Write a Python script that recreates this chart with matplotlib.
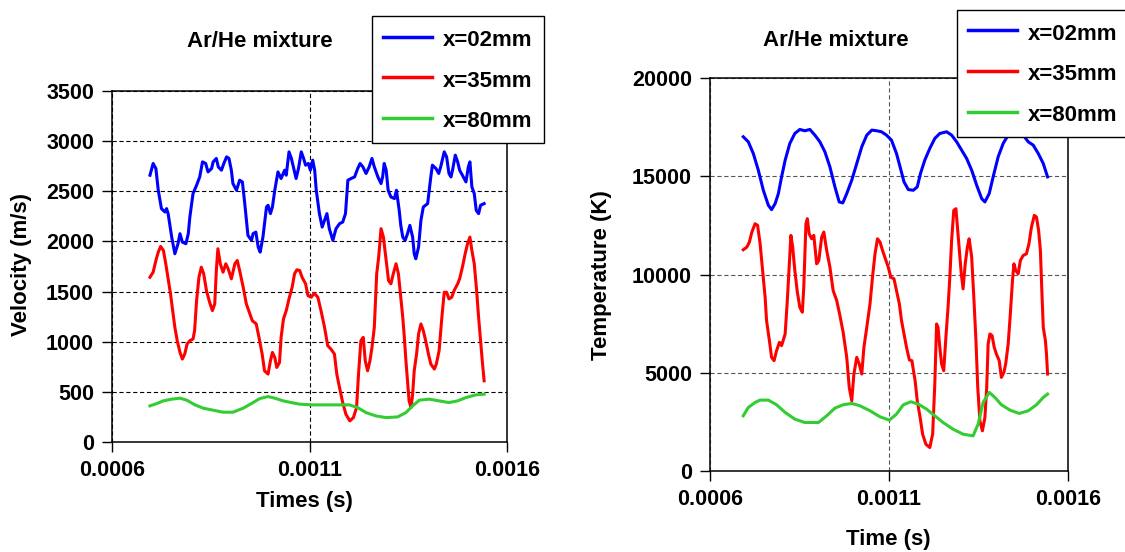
import numpy as np
import matplotlib
matplotlib.use("Agg")
import matplotlib.pyplot as plt

plt.rcParams['font.family'] = ['Liberation Sans', 'DejaVu Sans']
plt.rcParams['font.weight'] = 'bold'

# ---- left panel: velocity (m/s), time in microseconds ----
t_v02 = [696, 704, 711, 717, 725, 734, 738, 742, 751, 759, 767, 772, 778, 787, 793, 797, 805, 814, 822, 829,
         837, 843, 852, 856, 864, 869, 877, 883, 890, 896, 902, 906, 915, 923, 930, 936, 944, 953, 957, 964,
         970, 975, 982, 991, 995, 1001, 1006, 1012, 1020, 1028, 1037, 1041, 1048, 1054, 1060, 1066, 1072, 1079,
         1085, 1090, 1097, 1102, 1108, 1113, 1117, 1125, 1132, 1138, 1144, 1150, 1159, 1167, 1176, 1184, 1191,
         1197, 1205, 1214, 1222, 1228, 1235, 1243, 1251, 1258, 1264, 1273, 1281, 1285, 1289, 1294, 1299, 1306,
         1315, 1320, 1327, 1331, 1336, 1342, 1348, 1354, 1361, 1365, 1369, 1376, 1382, 1388, 1399, 1407, 1411,
         1420, 1427, 1432, 1441, 1447, 1453, 1458, 1462, 1469, 1475, 1480, 1487, 1496, 1502, 1506, 1511, 1517,
         1522, 1528, 1533, 1542]
v02 = [2660, 2777, 2727, 2510, 2327, 2293, 2327, 2277, 2043, 1877, 1977, 2077, 1993, 1977, 2077, 2243, 2477,
       2560, 2643, 2793, 2777, 2693, 2727, 2793, 2827, 2743, 2710, 2777, 2843, 2827, 2710, 2577, 2510, 2610,
       2593, 2377, 2060, 2010, 2077, 2093, 1943, 1893, 2043, 2343, 2360, 2277, 2343, 2510, 2693, 2627, 2710,
       2660, 2893, 2827, 2727, 2627, 2727, 2893, 2827, 2760, 2777, 2710, 2810, 2710, 2510, 2277, 2143, 2210,
       2277, 2127, 2010, 2127, 2177, 2193, 2277, 2610, 2627, 2643, 2727, 2777, 2743, 2677, 2743, 2827, 2743,
       2643, 2577, 2643, 2777, 2710, 2510, 2443, 2427, 2510, 2310, 2160, 2043, 2010, 2077, 2160, 2043, 1877,
       1827, 1943, 2210, 2343, 2377, 2643, 2760, 2727, 2677, 2743, 2893, 2843, 2677, 2643, 2710, 2860, 2793,
       2710, 2660, 2593, 2743, 2793, 2543, 2477, 2310, 2277, 2360, 2377]

t_v35 = [696, 704, 711, 717, 723, 730, 736, 742, 748, 753, 759, 765, 772, 778, 784, 790, 797, 805, 809, 814,
         820, 826, 832, 839, 847, 854, 860, 864, 868, 874, 881, 888, 894, 902, 911, 917, 923, 932, 940, 949,
         955, 965, 972, 980, 986, 995, 1001, 1006, 1012, 1017, 1024, 1028, 1034, 1041, 1049, 1056, 1062, 1068,
         1075, 1081, 1090, 1096, 1104, 1112, 1121, 1129, 1138, 1146, 1154, 1163, 1169, 1175, 1184, 1192, 1202,
         1211, 1219, 1224, 1230, 1236, 1241, 1247, 1253, 1258, 1264, 1270, 1275, 1281, 1287, 1294, 1300, 1306,
         1312, 1319, 1325, 1331, 1336, 1340, 1344, 1348, 1352, 1357, 1361, 1365, 1371, 1376, 1382, 1388, 1394,
         1401, 1407, 1416, 1421, 1428, 1435, 1441, 1447, 1453, 1460, 1466, 1475, 1480, 1487, 1494, 1500, 1506,
         1511, 1517, 1523, 1528, 1533, 1538, 1542]
v35 = [1643, 1693, 1810, 1893, 1950, 1910, 1777, 1627, 1477, 1327, 1143, 1010, 893, 827, 877, 977, 1010, 1027,
       1110, 1410, 1643, 1743, 1677, 1510, 1393, 1310, 1377, 1710, 1927, 1777, 1693, 1777, 1727, 1627, 1777,
       1810, 1710, 1543, 1377, 1277, 1210, 1177, 1043, 877, 710, 677, 810, 893, 843, 743, 793, 1043, 1227,
       1310, 1443, 1543, 1677, 1717, 1710, 1643, 1577, 1460, 1443, 1483, 1443, 1310, 1143, 960, 927, 877, 677,
       560, 393, 277, 210, 243, 343, 677, 1010, 1043, 810, 710, 810, 943, 1143, 1677, 1843, 2127, 2043, 1810,
       1610, 1577, 1677, 1777, 1677, 1443, 1243, 1043, 810, 610, 410, 343, 477, 710, 877, 1077, 1177, 1110,
       1010, 877, 777, 727, 777, 910, 1243, 1493, 1493, 1427, 1443, 1510, 1577, 1627, 1743, 1877, 1977, 2043,
       1910, 1777, 1510, 1243, 1010, 777, 610]

t_v80 = [696, 713, 730, 751, 772, 789, 810, 831, 856, 881, 906, 932, 957, 974, 995, 1012, 1033, 1054, 1075,
         1109, 1159, 1201, 1222, 1243, 1268, 1294, 1323, 1344, 1361, 1378, 1403, 1428, 1453, 1475, 1496, 1521,
         1542]
v80 = [360, 383, 410, 427, 437, 417, 370, 337, 317, 297, 297, 337, 393, 433, 453, 437, 410, 393, 377, 370,
       370, 370, 343, 293, 260, 243, 250, 293, 360, 417, 427, 410, 393, 410, 443, 470, 477]

# ---- right panel: temperature (K) ----
t_T02 = [693, 707, 721, 735, 749, 763, 772, 782, 791, 800, 810, 823, 837, 851, 865, 879, 893, 907, 921, 935,
         949, 961, 971, 982, 996, 1010, 1024, 1038, 1052, 1066, 1079, 1093, 1107, 1121, 1131, 1142, 1154, 1168,
         1179, 1188, 1200, 1214, 1228, 1242, 1261, 1275, 1289, 1303, 1317, 1331, 1345, 1359, 1368, 1380, 1391,
         1405, 1419, 1433, 1447, 1461, 1475, 1489, 1503, 1517, 1531, 1543]
T02 = [17008, 16753, 16158, 15308, 14288, 13523, 13302, 13608, 14118, 14968, 15818, 16668, 17178, 17382,
       17314, 17382, 17093, 16753, 16243, 15478, 14458, 13693, 13642, 14118, 14798, 15648, 16498, 17093, 17348,
       17314, 17263, 17093, 16838, 16158, 15478, 14713, 14322, 14288, 14458, 15138, 15818, 16413, 16923, 17178,
       17263, 17093, 16753, 16328, 15903, 15308, 14543, 13863, 13693, 14118, 14968, 15988, 16668, 17093, 17348,
       17348, 17093, 16753, 16583, 16158, 15648, 14968]

t_T35 = [693, 703, 710, 717, 726, 733, 740, 747, 754, 758, 766, 772, 779, 786, 794, 800, 810, 816, 822, 826,
         831, 837, 844, 851, 858, 862, 868, 872, 877, 884, 890, 898, 904, 912, 918, 926, 935, 944, 954, 963,
         972, 982, 989, 996, 1002, 1010, 1017, 1024, 1030, 1038, 1047, 1054, 1061, 1068, 1075, 1082, 1090, 1098,
         1105, 1114, 1121, 1129, 1135, 1142, 1149, 1157, 1164, 1173, 1179, 1187, 1194, 1203, 1214, 1222, 1228,
         1233, 1237, 1242, 1247, 1253, 1259, 1265, 1270, 1275, 1281, 1287, 1292, 1296, 1302, 1307, 1313, 1319,
         1324, 1331, 1337, 1343, 1348, 1354, 1361, 1368, 1373, 1377, 1382, 1388, 1394, 1400, 1408, 1414, 1421,
         1426, 1433, 1439, 1445, 1449, 1454, 1461, 1467, 1475, 1484, 1491, 1498, 1506, 1512, 1518, 1523, 1527,
         1531, 1537, 1540, 1543]
T35 = [11259, 11395, 11650, 12160, 12585, 12500, 11565, 10205, 8845, 7655, 6635, 5785, 5615, 6125, 6550, 6380,
       6975, 8675, 10715, 11990, 11395, 10205, 9100, 8335, 8080, 9355, 12585, 12840, 12075, 11820, 11990, 10545,
       10715, 11905, 12160, 11225, 10375, 9185, 8675, 7910, 7060, 5785, 4255, 3575, 4935, 5785, 5445, 4935,
       6295, 7315, 8505, 9865, 11055, 11820, 11650, 11225, 10800, 10375, 9865, 9780, 9185, 8505, 7655, 6975,
       6295, 5649, 5615, 4595, 3575, 2725, 1875, 1365, 1195, 1875, 4425, 7485, 7315, 6295, 5445, 5105, 6805,
       8335, 9865, 11735, 13265, 13350, 12245, 11395, 10035, 9270, 10545, 11395, 11820, 10885, 8845, 6635, 4255,
       2555, 2045, 2725, 4255, 6465, 6975, 6890, 6295, 5955, 5615, 4765, 5020, 5445, 6465, 7995, 9695, 10545,
       10205, 10035, 10715, 10970, 11055, 11565, 12415, 13010, 12925, 12245, 11225, 9185, 7315, 6635, 5955, 4935]

t_T80 = [693, 707, 726, 740, 763, 786, 810, 837, 865, 903, 926, 949, 972, 996, 1019, 1047, 1075, 1101, 1121,
         1140, 1161, 1182, 1205, 1228, 1251, 1279, 1307, 1335, 1349, 1363, 1380, 1396, 1414, 1438, 1464, 1489,
         1512, 1531, 1543]
T80 = [2810, 3235, 3490, 3609, 3609, 3371, 2980, 2640, 2470, 2470, 2810, 3201, 3371, 3439, 3320, 3065, 2759,
       2589, 2895, 3371, 3524, 3405, 3150, 2810, 2470, 2130, 1875, 1790, 2385, 3490, 4000, 3745, 3371, 3099,
       2929, 3065, 3371, 3745, 3915]

labels = ['x=02mm', 'x=35mm', 'x=80mm']
colors = ['#0000ff', '#ff0000', '#33cc33']
xticks = [0.0006, 0.0011, 0.0016]
xticklabels = ['0.0006', '0.0011', '0.0016']

fig = plt.figure(figsize=(11.25, 5.52), dpi=100)
ax1 = fig.add_axes([0.0996, 0.1993, 0.3511, 0.6359])
ax2 = fig.add_axes([0.6311, 0.1467, 0.3182, 0.7120])


def style(ax, ymax, ystep, gridcol):
    ax.set_xlim(0.0006, 0.0016)
    ax.set_ylim(0, ymax)
    ax.set_xticks(xticks)
    ax.set_xticklabels(xticklabels)
    ax.set_yticks(np.arange(0, ymax + 1, ystep))
    ax.tick_params(direction='out', length=7, width=1, labelsize=15.5, pad=6)
    for s in ax.spines.values():
        s.set_linewidth(1.1)
    ax.grid(True, color=gridcol, linestyle=(0, (3.8, 2.4)), linewidth=0.8)
    ax.set_axisbelow(True)


series1 = [(t_v02, v02), (t_v35, v35), (t_v80, v80)]
series2 = [(t_T02, T02), (t_T35, T35), (t_T80, T80)]

for (t, v), c, lab in zip(series1, colors, labels):
    ax1.plot(np.array(t) * 1e-6, v, color=c, lw=2.2, label=lab)
for (t, v), c, lab in zip(series2, colors, labels):
    ax2.plot(np.array(t) * 1e-6, v, color=c, lw=2.2, label=lab)

style(ax1, 3500, 500, 'black')
style(ax2, 20000, 5000, '#555555')

legkw = dict(loc='upper left', fontsize=16, fancybox=False, edgecolor='black', framealpha=1,
             handlelength=2.2, handleheight=1.2, handletextpad=0.5, labelspacing=0.75, borderpad=0.5,
             borderaxespad=0, bbox_transform=fig.transFigure)
leg1 = ax1.legend(bbox_to_anchor=(0.3307, 0.971), **legkw)
leg2 = ax2.legend(bbox_to_anchor=(0.8507, 0.982), **legkw)
for leg in (leg1, leg2):
    leg.get_frame().set_linewidth(1.0)
    for h in leg.get_lines():
        h.set_linewidth(2.5)

fig.text(259.7 / 1125, 1 - 41.7 / 552, 'Ar/He mixture', ha='center', va='center', fontsize=16, fontweight='bold')
fig.text(835.5 / 1125, 1 - 40.7 / 552, 'Ar/He mixture', ha='center', va='center', fontsize=16, fontweight='bold')
fig.text(304 / 1125, 1 - 502 / 552, 'Times (s)', ha='center', va='center', fontsize=16, fontweight='bold')
fig.text(888 / 1125, 1 - 539 / 552, 'Time (s)', ha='center', va='center', fontsize=16, fontweight='bold')
fig.text(22 / 1125, 1 - 265 / 552, 'Velocity (m/s)', ha='center', va='center', rotation=90, fontsize=16,
         fontweight='bold')
fig.text(602 / 1125, 1 - 275 / 552, 'Temperature (K)', ha='center', va='center', rotation=90, fontsize=16,
         fontweight='bold')

fig.savefig('out.png', dpi=100)
